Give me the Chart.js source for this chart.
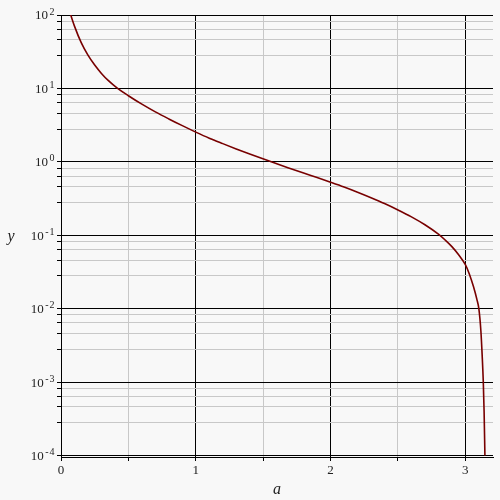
<!DOCTYPE html>
<html>
<head>
<meta charset="utf-8">
<script src="https://cdn.jsdelivr.net/npm/chart.js@4"></script>
<style>
html,body{margin:0;padding:0;background:#f8f8f8;}
#wrap{width:500px;height:500px;position:relative;}
</style>
</head>
<body>
<div id="wrap"><canvas id="c" width="500" height="500"></canvas></div>
<script>
// ---- data ----
const aValues = [0.07, 0.10, 0.15, 0.20, 0.25, 0.30, 0.35, 0.42, 0.50, 0.60, 0.70, 0.80, 0.90, 1.00, 1.10, 1.20, 1.30, 1.40, 1.56, 1.70, 1.80, 1.90, 2.00, 2.10, 2.20, 2.30, 2.40, 2.50, 2.60, 2.70, 2.80, 2.85, 2.90, 2.95, 3.00, 3.03, 3.06, 3.085, 3.10, 3.115, 3.125, 3.133, 3.139, 3.145];
const yValues = [103, 70.6, 42.0, 28.4, 20.8, 16.0, 12.84, 10.0, 7.95, 6.10, 4.79, 3.84, 3.11, 2.54, 2.10, 1.77, 1.50, 1.28, 1.00, 0.813, 0.703, 0.610, 0.527, 0.453, 0.385, 0.324, 0.270, 0.221, 0.178, 0.139, 0.1035, 0.0861, 0.0700, 0.0543, 0.0398, 0.0295, 0.0200, 0.0135, 0.0100, 0.0050, 0.00224, 0.0010, 0.000398, 0.0001];
const xTickValues = [0, 0.5, 1, 1.5, 2, 2.5, 3];
const xTickLabels = ["0", "", "1", "", "2", "", "3"];
const yDecades = [-4, -3, -2, -1, 0, 1, 2];
const yMinorFactors = [2.8, 4.6, 6.4, 8.2];
const xLabel = "a";
const yLabel = "y";

const points = aValues.map((a, i) => ({x: a, y: yValues[i]}));

const yTickValues = [];
yDecades.forEach(d => {
  yTickValues.push({value: Math.pow(10, d), major: true});
  if (d < 2) yMinorFactors.forEach(f => yTickValues.push({value: f * Math.pow(10, d), major: false}));
});
yTickValues.sort((p, q) => p.value - q.value);

const serif = '"Liberation Serif", "DejaVu Serif", serif';

const labelPlugin = {
  id: 'labels',
  afterDraw(chart) {
    const ctx = chart.ctx;
    const ys = chart.scales.y;
    ctx.save();
    ctx.fillStyle = '#222';
    yDecades.forEach(d => {
      const py = ys.getPixelForValue(Math.pow(10, d));
      const exp = d < 0 ? '-\u200A' + (-d) : String(d);
      ctx.font = '10px ' + serif;
      ctx.textAlign = 'right';
      ctx.textBaseline = 'alphabetic';
      const ew = ctx.measureText(exp).width;
      ctx.fillText(exp, 54.5, py - 0.5);
      ctx.font = '13px ' + serif;
      ctx.textBaseline = 'middle';
      ctx.fillText('10', 54.5 - ew - 1.5, py + 1);
    });
    ctx.font = 'italic 16px ' + serif;
    ctx.textAlign = 'center';
    ctx.textBaseline = 'alphabetic';
    ctx.fillText(yLabel, 11, 241);
    const xs = chart.scales.x;
    ctx.fillText(xLabel, (xs.left + xs.right) / 2, 494);
    ctx.restore();
  }
};

new Chart(document.getElementById('c'), {
  type: 'line',
  data: {
    datasets: [{
      data: points,
      borderColor: '#780000',
      borderWidth: 1.6,
      pointRadius: 0,
      fill: false,
      cubicInterpolationMode: 'monotone'
    }]
  },
  options: {
    responsive: false,
    animation: false,
    layout: {padding: {left: 0, right: 7, top: 15, bottom: 0}},
    plugins: {legend: {display: false}, tooltip: {enabled: false}},
    scales: {
      x: {
        type: 'linear',
        min: 0,
        max: 3.205,
        afterBuildTicks: s => { s.ticks = xTickValues.map(v => ({value: v})); },
        afterFit: s => { s.height = 43; },
        ticks: {
          autoSkip: false,
          maxRotation: 0,
          padding: 2,
          color: '#222',
          font: {family: serif, size: 13},
          callback: (v, i) => xTickLabels[i]
        },
        grid: {
          color: ctx => (ctx.tick && Number.isInteger(ctx.tick.value)) ? '#000' : '#c8c8c8',
          lineWidth: 1,
          tickColor: '#000',
          tickLength: 4,
          drawTicks: true
        },
        border: {display: true, color: '#000', width: 1}
      },
      y: {
        type: 'logarithmic',
        min: 9.54e-5,
        max: 100,
        afterBuildTicks: s => { s.ticks = yTickValues.map(t => ({value: t.value, major: t.major})); },
        afterFit: s => { s.width = 61; },
        ticks: {
          autoSkip: false,
          callback: () => ''
        },
        grid: {
          color: ctx => (ctx.tick && ctx.tick.major) ? '#000' : '#c8c8c8',
          lineWidth: 1,
          tickColor: '#000',
          tickLength: 4,
          drawTicks: true
        },
        border: {display: true, color: '#000', width: 1}
      }
    }
  },
  plugins: [labelPlugin]
});
</script>
</body>
</html>
